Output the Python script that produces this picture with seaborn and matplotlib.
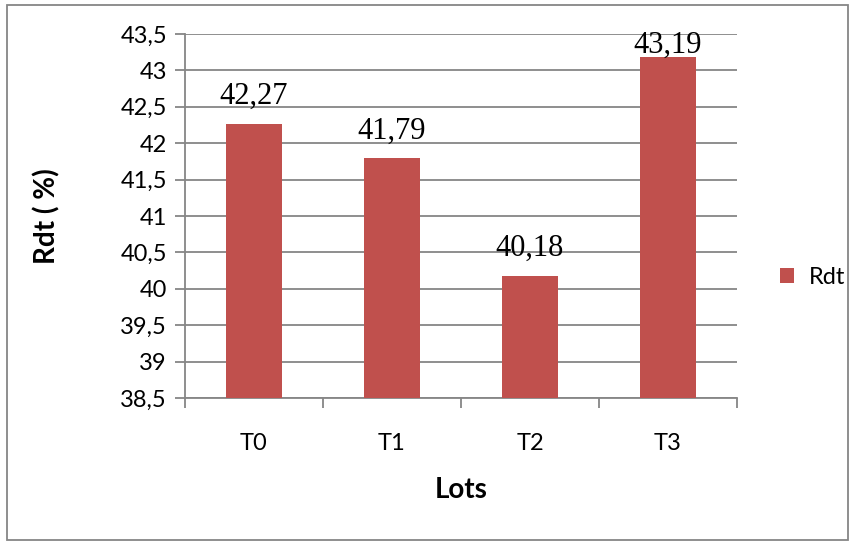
import matplotlib
matplotlib.use("Agg")
import matplotlib.pyplot as plt
import seaborn as sns
import pandas as pd
from matplotlib.patches import Rectangle
from matplotlib.transforms import blended_transform_factory

# Rendement par lot
lots = ["T0", "T1", "T2", "T3"]
rdt = [42.27, 41.79, 40.18, 43.19]
yticks = [38.5, 39, 39.5, 40, 40.5, 41, 41.5, 42, 42.5, 43, 43.5]

df = pd.DataFrame({"Lots": lots, "Rdt": rdt})

sns.set_theme(style="white")
plt.rcParams["font.family"] = ["Lato", "DejaVu Sans"]
plt.rcParams["text.color"] = "black"
plt.rcParams["axes.labelcolor"] = "black"
plt.rcParams["xtick.labelcolor"] = "black"
plt.rcParams["ytick.labelcolor"] = "black"

W, H, DPI = 851, 546, 100
fig = plt.figure(figsize=(W / DPI, H / DPI), dpi=DPI)
ax = fig.add_axes([185 / W, 1 - 398 / H, (737 - 185) / W, (398 - 34) / H])

bar_color = "#C0504D"
grid_color = "#868686"

sns.barplot(data=df, x="Lots", y="Rdt", color=bar_color, width=0.4,
            saturation=1, ax=ax, label="Rdt", zorder=3)
for p in ax.patches:
    p.set_edgecolor("none")

ax.set_ylim(38.5, 43.5)
ax.set_xlim(-0.5, len(lots) - 0.5)
ax.set_yticks(yticks)
ax.set_yticklabels([f"{v:g}".replace(".", ",") for v in yticks], fontsize=17)
ax.yaxis.grid(True, color=grid_color, linewidth=1.3, zorder=0)
ax.set_axisbelow(True)

# Category ticks sit between the bars
ax.set_xticks(range(len(lots)))
ax.set_xticklabels(lots, fontsize=17)
ax.tick_params(axis="x", which="major", length=0, pad=25)
ax.set_xticks([i - 0.5 for i in range(len(lots) + 1)], minor=True)
ax.tick_params(axis="x", which="minor", length=7, width=1.3, color=grid_color,
               direction="out", bottom=True)
ax.tick_params(axis="y", length=7, width=1.3, color=grid_color, left=True,
               direction="out", pad=6)

for s in ["top", "right"]:
    ax.spines[s].set_visible(False)
for s in ["left", "bottom"]:
    ax.spines[s].set_color(grid_color)
    ax.spines[s].set_linewidth(1.3)

ax.set_xlabel("Lots", fontsize=20, fontweight="bold", labelpad=17)
ax.set_ylabel("Rdt ( %)", fontsize=20, fontweight="bold", labelpad=43)

# Value labels above each bar, kept inside the plot area
lift_pt = 14       # baseline above the bar top
text_pt = 15.5     # approximate digit height in points
top_limit = ax.get_ylim()[1]
pts_per_unit = (ax.get_position().height * H / DPI * 72) / (top_limit - ax.get_ylim()[0])
for i, v in enumerate(rdt):
    label = f"{v:.2f}".replace(".", ",")
    if v + (lift_pt + text_pt) / pts_per_unit > top_limit:
        tr = blended_transform_factory(ax.transData, ax.transAxes)
        ax.annotate(label, (i, 1.0), xycoords=tr, xytext=(0, -13.5),
                    textcoords="offset points", ha="center", va="baseline",
                    fontsize=22, family="Liberation Serif", color="black")
    else:
        ax.annotate(label, (i, v), xytext=(0, lift_pt),
                    textcoords="offset points", ha="center", va="baseline",
                    fontsize=22, family="Liberation Serif", color="black")

ax.legend(loc="center left", bbox_to_anchor=(1.04, 0.332), frameon=False,
          fontsize=17, handlelength=0.6, handleheight=0.6, handletextpad=0.6)

# Chart frame
fig.patches.append(Rectangle((7 / W, 6 / H), (848 - 7) / W, (541 - 6) / H,
                             transform=fig.transFigure, fill=False,
                             edgecolor=grid_color, linewidth=1.3))

fig.savefig("out.png", dpi=DPI)
